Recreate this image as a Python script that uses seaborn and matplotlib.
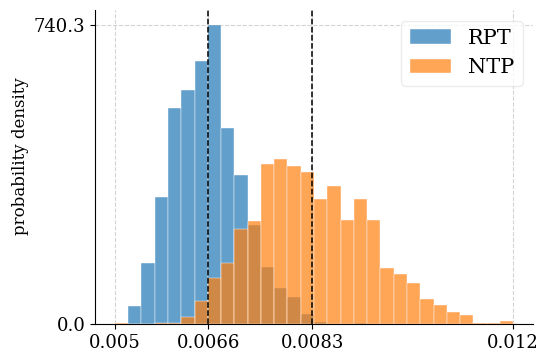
#!/usr/bin/env python3
"""Histogram of RPT vs NTP probability density, with mean lines."""
import numpy as np
import pandas as pd
import matplotlib
matplotlib.use('Agg')
import matplotlib.pyplot as plt
import seaborn as sns

# 30 bins from 0.005 to 0.012
bin_edges = list(np.linspace(0.005, 0.012, 31))
bin_centers = [(a + b) / 2 for a, b in zip(bin_edges[:-1], bin_edges[1:])]

rpt_density = [0, 44.4, 150.5, 315.9, 534.7, 579.1, 650.7, 740.3, 486.1, 370.2,
               244.3, 141.5, 89.7, 66.6, 26.3, 5.0, 0, 0, 3.0, 0,
               0, 0, 0, 0, 0, 0, 0, 0, 0, 0]
ntp_density = [3.3, 0, 0, 3.3, 3.3, 16.5, 56.8, 115.2, 150.5, 235.3,
               254.2, 395.7, 409.6, 392.4, 377.6, 310.9, 342.2, 257.5, 310.9, 257.5,
               138.2, 123.4, 101.2, 61.7, 48.5, 29.6, 22.2, 3.3, 3.3, 7.4]

means = [0.00664, 0.00847]
xtick_values = [0.005, means[0], means[1], 0.012]
xtick_labels = ['0.005', '0.0066', '0.0083', '0.012']
ytick_labels = ['0.0', '740.3']


def main():
    plt.rcParams['font.family'] = ['DejaVu Serif']
    df = pd.DataFrame({'center': bin_centers, 'RPT': rpt_density, 'NTP': ntp_density})

    fig = plt.figure(figsize=(5.49, 3.63), dpi=100)
    ax = fig.add_axes([0.173, 0.107, 0.798, 0.865])

    sns.histplot(data=df, x='center', weights='RPT', bins=bin_edges, color='C0',
                 alpha=0.7, edgecolor='white', linewidth=0.3, label='RPT', ax=ax)
    sns.histplot(data=df, x='center', weights='NTP', bins=bin_edges, color='C1',
                 alpha=0.7, edgecolor='white', linewidth=0.3, label='NTP', ax=ax)

    for m in means:
        ax.axvline(m, color='black', linestyle='--', linewidth=1.1, zorder=5)

    ymax = max(rpt_density)
    ax.set_xticks(xtick_values)
    ax.set_xticklabels(xtick_labels, fontsize=13)
    ax.set_yticks([0, ymax])
    ax.set_yticklabels(ytick_labels, fontsize=13)
    ax.grid(True, linestyle='--', color='lightgray', linewidth=0.8)
    ax.set_axisbelow(True)
    ax.set_xlabel('')
    ax.set_ylabel('probability density', fontsize=12)
    ax.yaxis.set_label_coords(-0.15, 0.535)
    sns.despine(ax=ax)
    leg = ax.legend(loc='upper right', fontsize=15, framealpha=0.8)
    leg.get_frame().set_edgecolor('0.9')

    fig.savefig('out.png', dpi=100)
    plt.close(fig)


if __name__ == '__main__':
    main()
